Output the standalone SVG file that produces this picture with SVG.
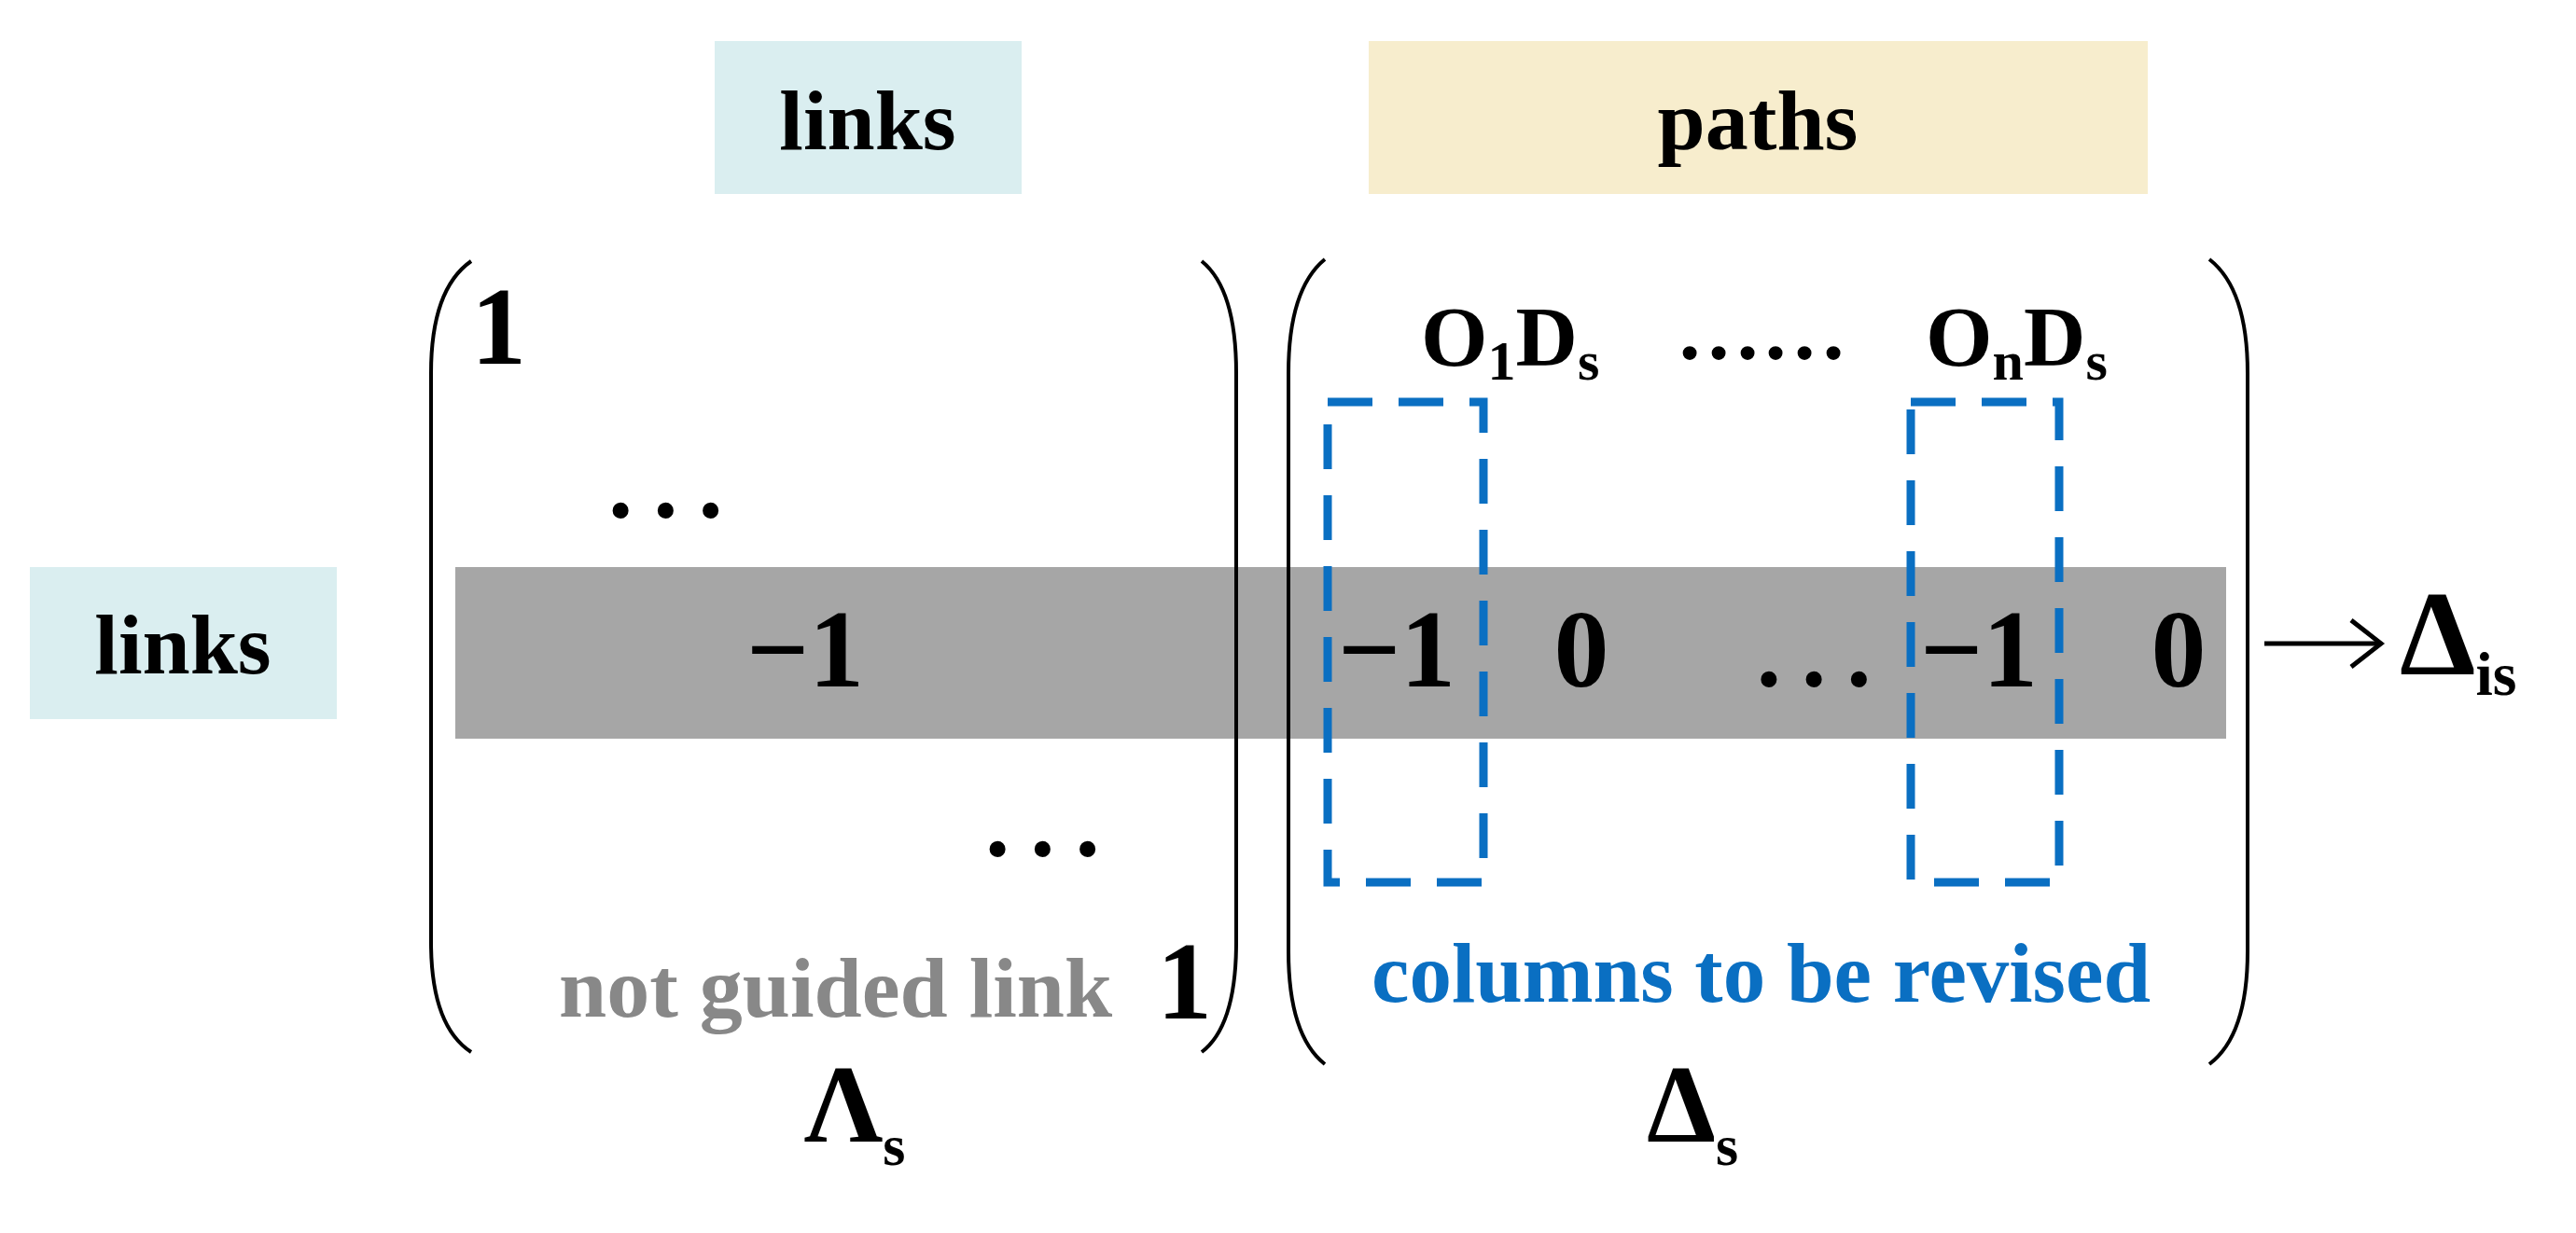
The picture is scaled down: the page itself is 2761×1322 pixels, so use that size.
<svg xmlns="http://www.w3.org/2000/svg" width="2761" height="1322" viewBox="0 0 2761 1322">
<style>
text{font-family:"Liberation Serif","Times New Roman",serif;font-weight:bold;fill:#000}
.m{font-size:118px}
.h{font-size:92px}
.d{font-size:105px;letter-spacing:22px}
.br{fill:none;stroke:#000;stroke-width:4}
.dash{fill:none;stroke:#0A6FC2;stroke-width:9;stroke-dasharray:48 28}
</style>
<rect width="2761" height="1322" fill="#fff"/>
<g id="hdr-links"><rect x="766" y="44" width="329" height="164" fill="#DAEEF0"/><text class="h" x="930" y="160" text-anchor="middle">links</text></g>
<g id="hdr-paths"><rect x="1467" y="44" width="835" height="164" fill="#F7EDCD"/><text class="h" x="1884" y="160" text-anchor="middle">paths</text></g>
<g id="row-links"><rect x="32" y="608" width="329" height="163" fill="#DAEEF0"/><text class="h" x="196" y="722" text-anchor="middle">links</text></g>
<g id="band"><rect x="488" y="608" width="1898" height="184" fill="#A6A6A6"/></g>
<g id="lambda">
<path class="br" d="M505,280 Q462,310 462,400 L462,1010 Q462,1100 505,1128"/>
<path class="br" d="M1288,280 Q1325,310 1325,400 L1325,1010 Q1325,1100 1288,1128"/>
<text class="m" x="505" y="390">1</text>
<text class="d" x="652" y="555">...</text>
<text class="m" x="863" y="736" text-anchor="middle">−1</text>
<text class="d" x="1056" y="918">...</text>
<text x="599" y="1090" font-size="92" style="fill:#888">not guided link</text>
<text class="m" x="1240" y="1092">1</text>
<text class="m" x="916" y="1224" text-anchor="middle">Λ<tspan font-size="62" dy="25">s</tspan></text>
</g>
<g id="delta">
<path class="br" d="M1420,278 Q1381,310 1381,400 L1381,1020 Q1381,1110 1420,1141"/>
<path class="br" d="M2368,278 Q2409,310 2409,400 L2409,1020 Q2409,1110 2368,1141"/>
<text class="h" x="1523" y="392">O<tspan font-size="60" dy="15">1</tspan><tspan dy="-15">D</tspan><tspan font-size="60" dy="15">s</tspan></text>
<text class="h" x="1796" y="385">……</text>
<text class="h" x="2064" y="392">O<tspan font-size="60" dy="15">n</tspan><tspan dy="-15">D</tspan><tspan font-size="60" dy="15">s</tspan></text>
<text class="m" x="1497" y="736" text-anchor="middle">−1</text>
<text class="m" x="1695" y="736" text-anchor="middle">0</text>
<text class="d" x="1955" y="736" text-anchor="middle">...</text>
<text class="m" x="2121" y="736" text-anchor="middle">−1</text>
<text class="m" x="2335" y="736" text-anchor="middle">0</text>
<rect class="dash" x="1423" y="431" width="167" height="515"/>
<rect class="dash" x="2048" y="431" width="159" height="515"/>
<text x="1470" y="1074" font-size="91" style="fill:#0A6FC2">columns to be revised</text>
<text class="m" x="1814" y="1224" text-anchor="middle">Δ<tspan font-size="62" dy="25">s</tspan></text>
</g>
<g id="connectors">
<line x1="2427" y1="690" x2="2550" y2="690" stroke="#000" stroke-width="5"/>
<polyline points="2520,665 2552,690 2520,715" fill="none" stroke="#000" stroke-width="5"/>
</g>
<g id="delta-is"><text x="2572" y="723" font-size="130">Δ<tspan font-size="66" dy="22">is</tspan></text></g>
</svg>
